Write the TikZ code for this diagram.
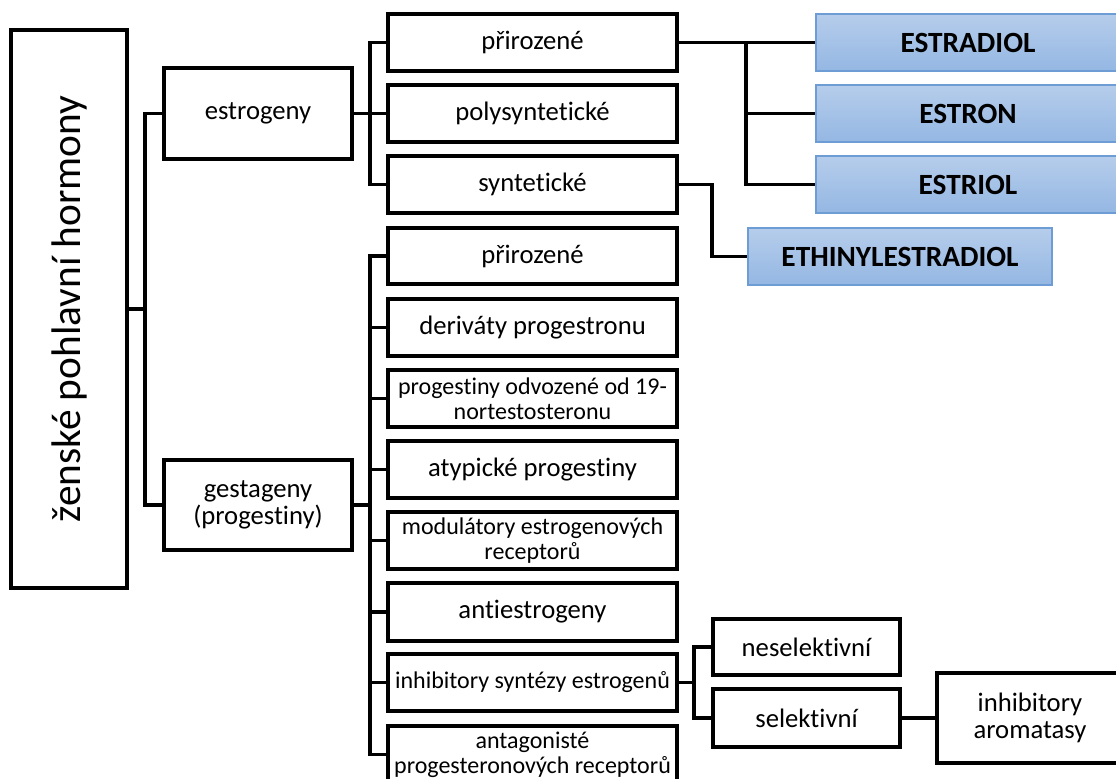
\documentclass[tikz,border=0pt]{standalone}
\usepackage{fontspec}
\setmainfont{Carlito}[Ligatures=NoCommon]
\definecolor{bluetop}{RGB}{182,205,235}
\definecolor{bluebot}{RGB}{148,183,227}
\definecolor{blueedge}{RGB}{110,157,213}
% box with corner coordinates (x1,y1)-(x2,y2) in picture units
\newcommand\mkbox[7][box]{%
  \node[#1, minimum width={(#5-#3)*0.75pt}, minimum height={(#6-#4)*0.75pt}]
    (#2) at ({(#3+#5)/2},{(#4+#6)/2}) {#7};}
\tikzset{
  box/.style={draw=black, line width=2.3pt, fill=white, inner sep=0pt,
    align=center, font=\fontsize{20pt}{20pt}\selectfont},
  smallbox/.style={box, font=\fontsize{18pt}{18.8pt}\selectfont},
  bluebox/.style={draw=blueedge, line width=1.4pt, top color=bluetop,
    bottom color=bluebot, inner sep=0pt, align=center,
    font=\fontsize{22pt}{24pt}\selectfont\bfseries},
  conn/.style={draw=black, line width=2.3pt, line join=miter},
}
\begin{document}
\begin{tikzpicture}[x=0.75pt, y=-0.75pt]
\path[use as bounding box] (0,0) rectangle (1116,778);
\clip (0,0) rectangle (1116,778);

% root
\node[box, rotate=90, minimum width=418.5pt, minimum height=87pt,
  font=\fontsize{31pt}{31pt}\selectfont] (root) at (69,309)
  {ženské pohlavní hormony};

% main groups
\mkbox{estro}{164}{68}{352}{159}{estrogeny}
\mkbox{gest}{164}{460}{352}{550}{gestageny\\(progestiny)}

% estrogen branches
\mkbox{e1}{388}{14}{677}{71}{přirozené}
\mkbox{e2}{388}{85}{677}{142}{polysyntetické}
\mkbox{e3}{388}{156}{677}{213}{syntetické}

% estrogen substances
\mkbox[bluebox]{b1}{816}{14}{1120}{71}{ESTRADIOL}
\mkbox[bluebox]{b2}{816}{85}{1120}{142}{ESTRON}
\mkbox[bluebox]{b3}{816}{156}{1120}{213}{ESTRIOL}
\mkbox[bluebox]{b4}{748}{228}{1052}{285}{ETHINYLESTRADIOL}

% gestagen branches
\mkbox{g1}{388}{228}{677}{284}{přirozené}
\mkbox{g2}{388}{299}{677}{356}{deriváty progestronu}
\mkbox[smallbox]{g3}{388}{370}{677}{427}{progestiny odvozené od 19-\\nortestosteronu}
\mkbox{g4}{388}{441}{677}{498}{atypické progestiny}
\mkbox[smallbox]{g5}{388}{512}{677}{569}{modulátory estrogenových\\receptorů}
\mkbox{g6}{388}{583}{677}{641}{antiestrogeny}
\mkbox[smallbox]{g7}{388}{654}{677}{711}{inhibitory syntézy estrogenů}
\mkbox[smallbox]{g8}{388}{726}{677}{783}{antagonisté\\progesteronových receptorů}

% inhibitor subtypes
\mkbox{ns}{713}{619}{900}{675}{neselektivní}
\mkbox{se}{713}{689}{900}{747}{selektivní}
\mkbox{ar}{937}{673}{1123}{763}{inhibitory\\aromatasy}

% junction points
\coordinate (jr) at (145,309);
\coordinate (je) at (370,113.5);
\coordinate (jb) at (746,42.5);
\coordinate (js) at (712,184.5);
\coordinate (jg) at (370,505);
\coordinate (ji) at (694,682.5);

% connectors
\draw[conn] (root.south) -- (jr);
\draw[conn] (jr) |- (estro.west);
\draw[conn] (jr) |- (gest.west);

\draw[conn] (estro.east) -- (je);
\foreach \n in {e1,e2,e3} \draw[conn] (je) |- (\n.west);

\draw[conn] (e1.east) -- (b1.west);
\draw[conn] (jb) |- (b2.west);
\draw[conn] (jb) |- (b3.west);
\draw[conn] (e3.east) -- (js) |- (b4.west);

\draw[conn] (gest.east) -- (jg);
\foreach \n in {g1,g2,g3,g4,g5,g6,g7,g8} \draw[conn] (jg) |- (\n.west);

\draw[conn] (g7.east) -- (ji);
\draw[conn] (ji) |- (ns.west);
\draw[conn] (ji) |- (se.west);
\draw[conn] (se.east) -- (se.east -| ar.west);
\end{tikzpicture}
\end{document}
